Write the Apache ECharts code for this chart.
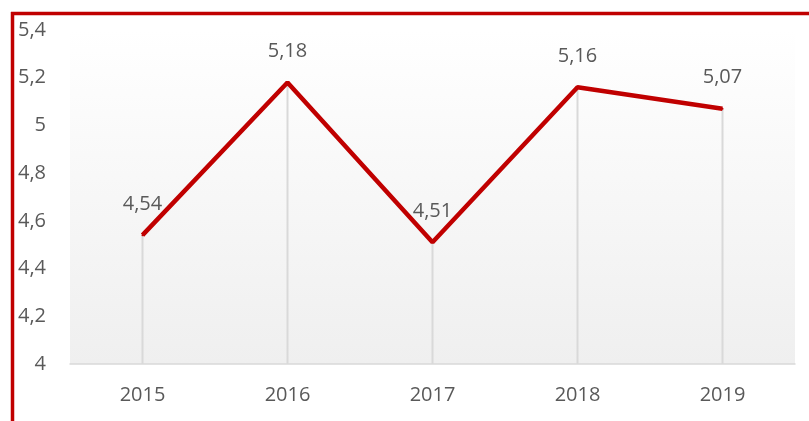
<!DOCTYPE html>
<html><head><meta charset="utf-8">
<script src="https://cdn.jsdelivr.net/npm/echarts@6/dist/echarts.min.js"></script>
<style>html,body{margin:0;padding:0;background:#fff}#c{width:809px;height:421px}</style>
</head><body><div id="c"></div>
<script>
const categories = ['2015','2016','2017','2018','2019'];
const values = [4.54, 5.18, 4.51, 5.16, 5.07];
const yMin = 4, yMax = 5.4, yStep = 0.2;

const fmt = v => String(+(+v).toFixed(2)).replace('.', ',');
const font = '"Open Sans", "Noto Sans", sans-serif';
const chart = echarts.init(document.getElementById('c'));
chart.setOption({
  animation: false,
  backgroundColor: '#fff',
  grid: {
    left: 70, right: 14, top: 30, bottom: 57, show: true, borderWidth: 0,
    backgroundColor: new echarts.graphic.LinearGradient(0, 0, 0, 1, [
      {offset: 0, color: '#ffffff'}, {offset: 1, color: '#efefef'}
    ])
  },
  xAxis: {
    type: 'category', data: categories,
    axisLine: {lineStyle: {color: '#d9d9d9', width: 1.5}},
    axisTick: {show: false},
    axisLabel: {color: '#595959', fontSize: 20, fontFamily: font, margin: 21}
  },
  yAxis: {
    type: 'value', min: yMin, max: yMax, interval: yStep,
    axisLine: {show: false}, axisTick: {show: false}, splitLine: {show: false},
    axisLabel: {color: '#595959', fontSize: 20, fontFamily: font, margin: 24, formatter: fmt}
  },
  series: [
    {
      type: 'bar', data: values, barWidth: 2, silent: true,
      itemStyle: {color: '#d9d9d9'}, z: 1
    },
    {
      type: 'line', data: values, symbol: 'circle', symbolSize: 2, showSymbol: true, z: 3,
      itemStyle: {color: '#c00000'},
      lineStyle: {color: '#c00000', width: 4.5},
      label: {show: true, position: 'top', distance: 20, color: '#595959', fontSize: 20, fontFamily: font,
        formatter: p => fmt(p.value)}
    }
  ],
  graphic: [
    {type: 'line', shape: {x1: 11, y1: 13.5, x2: 809, y2: 13.5}, style: {stroke: '#c00000', lineWidth: 3.5}, z: 100},
    {type: 'line', shape: {x1: 12.5, y1: 12, x2: 12.5, y2: 421}, style: {stroke: '#c00000', lineWidth: 3.5}, z: 100}
  ]
});
</script></body></html>
